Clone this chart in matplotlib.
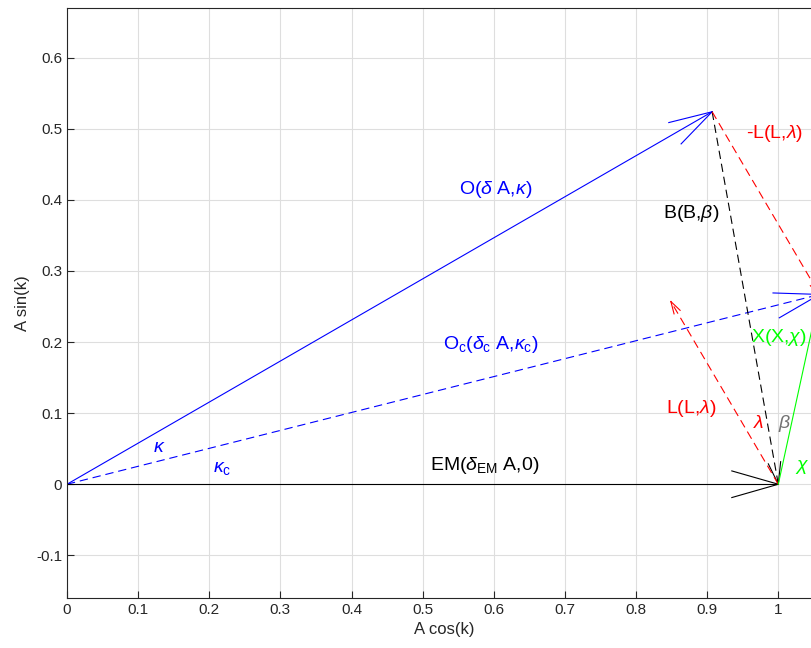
import numpy as np
import matplotlib
matplotlib.use("Agg")
import matplotlib.pyplot as plt

plt.rcParams['font.family'] = ['Liberation Sans', 'DejaVu Sans']
plt.rcParams['mathtext.fontset'] = 'custom'
plt.rcParams['mathtext.rm'] = 'Liberation Sans'
plt.rcParams['mathtext.it'] = 'Liberation Sans:italic'
plt.rcParams['lines.scale_dashes'] = False

# phasor tips
O = np.array([0.907, 0.524])     # O(dA, kappa)
Oc = np.array([1.058, 0.267])    # Oc(dc A, kappa_c)
EM = np.array([1.0, 0.0])        # EM(dEM A, 0)

xticks = np.round(np.arange(0, 1.11, 0.1), 1)
yticks = np.round(np.arange(-0.1, 0.61, 0.1), 1)

fig = plt.figure(figsize=(8.11, 6.48), dpi=100)
ax = fig.add_axes([0.0826, 0.0772, 0.9297, 0.9105])

def arrow(start, vec, color, ls='-', head=0.06, ang=16):
    start = np.asarray(start, float)
    vec = np.asarray(vec, float)
    tip = start + vec
    dash = dict(dashes=(6, 3.5)) if ls == '--' else {}
    ax.plot([start[0], tip[0]], [start[1], tip[1]], color=color, lw=0.8, **dash)
    L = np.hypot(*vec) * head
    back = np.arctan2(-vec[1], -vec[0])
    for s in (-1, 1):
        a = back + s * np.deg2rad(ang)
        ax.plot([tip[0], tip[0] + L * np.cos(a)], [tip[1], tip[1] + L * np.sin(a)],
                color=color, lw=0.8)

zero = [0, 0]
arrow(zero, O, 'b')
arrow(zero, Oc, 'b', '--')
arrow(zero, EM, 'k', head=0.068)
arrow(O, EM - O, 'k', '--')
arrow(O, Oc - O, 'r', '--')
arrow(EM, O - Oc, 'r', '--')
arrow(EM, Oc - EM, (0, 1, 0))

fs = 14
kw = dict(ha='left', va='center', fontsize=fs)
ax.text(0.551, 0.415, r'O($\delta$ A,$\kappa$)', color='b', **kw)
ax.text(0.529, 0.196, r'O$_{\rm c}$($\delta_{\rm c}$ A,$\kappa_{\rm c}$)', color='b', **kw)
ax.text(0.511, 0.027, r'EM($\delta_{\rm EM}$ A,0)', color='k', **kw)
ax.text(0.121, 0.052, r'$\kappa$', color='b', **kw)
ax.text(0.205, 0.022, r'$\kappa_{\rm c}$', color='b', **kw)
ax.text(0.954, 0.493, r'-L(L,$\lambda$)', color='r', **kw)
ax.text(0.838, 0.381, r'B(B,$\beta$)', color='k', **kw)
ax.text(0.842, 0.107, r'L(L,$\lambda$)', color='r', **kw)
ax.text(0.961, 0.206, r'X(X,$\chi$)', color=(0, 1, 0), **kw)
ax.text(0.965, 0.085, r'$\lambda$', color='r', **kw)
ax.text(0.999, 0.085, r'$\beta$', color='0.45', **kw)
ax.text(1.024, 0.024, r'$\chi$', color=(0, 1, 0), **kw)

ax.set_xticks(xticks)
ax.set_xticklabels([f'{t:g}' for t in xticks])
ax.set_yticks(yticks)
ax.set_yticklabels([f'{t:g}' for t in yticks])
ax.set_xlim(0, 1.06)
ax.set_ylim(-0.160, 0.670)
ax.grid(True, color='0.87', lw=0.8)
ax.set_axisbelow(True)
ax.tick_params(direction='in', length=5, colors='0.15', labelsize=11, top=False, right=False)
for sp in ax.spines.values():
    sp.set_color('0.15')
    sp.set_linewidth(0.8)
ax.set_xlabel('A cos(k)', fontsize=12, color='0.15')
ax.set_ylabel('A sin(k)', fontsize=12, color='0.15')

fig.savefig('out.png', dpi=100)
